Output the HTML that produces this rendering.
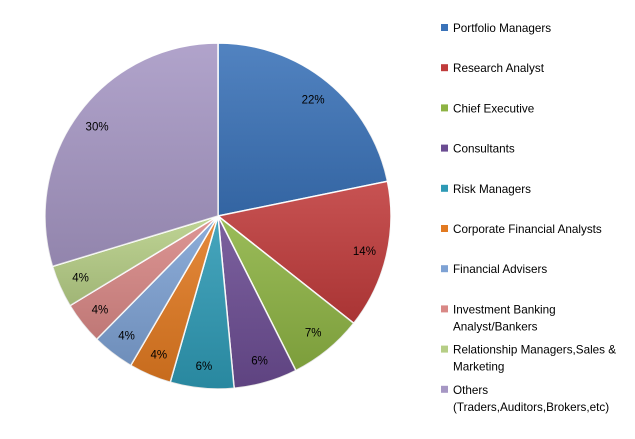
<!DOCTYPE html>
<html><head><meta charset="utf-8"><style>
body{margin:0;background:#fff;}
svg text{font-family:"Liberation Sans",sans-serif;}
</style></head><body>
<svg id="chart" width="635" height="434">
<defs>
<linearGradient id="shade" x1="0" y1="0" x2="0" y2="1">
<stop offset="0" stop-color="#fff" stop-opacity="0.12"/>
<stop offset="1" stop-color="#000" stop-opacity="0.12"/>
</linearGradient>
</defs>
<g id="slices"></g>
<g id="labels"></g>
<g id="legend"></g>
</svg>
<script>
const categories=["Portfolio Managers","Research Analyst","Chief Executive","Consultants","Risk Managers","Corporate Financial Analysts","Financial Advisers","Investment Banking|Analyst/Bankers","Relationship Managers,Sales &|Marketing","Others|(Traders,Auditors,Brokers,etc)"];
const values=[22,14,7,6,6,4,4,4,4,30];
const colors=["#3a72b8","#c03b3b","#8db343","#6b4c92","#2e9ab5","#e27a21","#7ea2d4","#d98886","#b6ce86","#a697c4"];
const NS="http://www.w3.org/2000/svg";
const cx=218,cy=216,r=173;
const total=values.reduce((a,b)=>a+b,0);
const gS=document.getElementById('slices'),gL=document.getElementById('labels'),gG=document.getElementById('legend');
let acc=0;
values.forEach((v,i)=>{
  const a0=acc/total*2*Math.PI; acc+=v; const a1=acc/total*2*Math.PI;
  const p=(a)=>[cx+r*Math.sin(a),cy-r*Math.cos(a)];
  const [x0,y0]=p(a0),[x1,y1]=p(a1);
  const large=(a1-a0)>Math.PI?1:0;
  const d=`M${cx},${cy}L${x0},${y0}A${r},${r} 0 ${large} 1 ${x1},${y1}Z`;
  const path=document.createElementNS(NS,'path');
  path.setAttribute('d',d);path.setAttribute('fill',colors[i]);path.setAttribute('stroke','#fff');path.setAttribute('stroke-width','1.5');
  
  
  gS.appendChild(path);
  const ov=document.createElementNS(NS,'path');
  ov.setAttribute('d',d);ov.setAttribute('fill','url(#shade)');ov.setAttribute('pointer-events','none');
  
  
  gS.appendChild(ov);
  const am=(a0+a1)/2,lr=r*0.87;
  const t=document.createElementNS(NS,'text');
  t.setAttribute('x',cx+lr*Math.sin(am));t.setAttribute('y',cy-lr*Math.cos(am)+4);
  t.setAttribute('text-anchor','middle');t.setAttribute('font-size','11.5');t.setAttribute('fill','#000');
  t.textContent=Math.round(v/total*100)+'%';
  
  
  gL.appendChild(t);
  const ly=28+i*40.2;
  const rect=document.createElementNS(NS,'rect');
  rect.setAttribute('x',441);rect.setAttribute('y',ly-4);rect.setAttribute('width',7);rect.setAttribute('height',7);rect.setAttribute('fill',colors[i]);
  
  
  gG.appendChild(rect);
  categories[i].split('|').forEach((ln,k)=>{
    const lt=document.createElementNS(NS,'text');
    lt.setAttribute('x',453);lt.setAttribute('y',ly+4+k*17);lt.setAttribute('font-size','11.7');lt.setAttribute('fill','#000');
    lt.textContent=ln;
    
    
    gG.appendChild(lt);
  });
});
</script>
</body></html>
